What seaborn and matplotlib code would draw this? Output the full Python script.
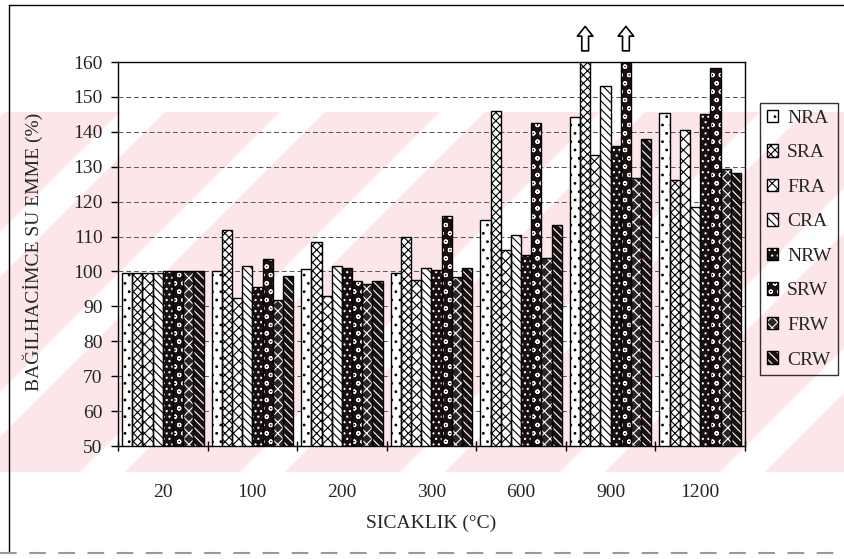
import numpy as np
import pandas as pd
import matplotlib
matplotlib.use("Agg")
import matplotlib.pyplot as plt
import seaborn as sns
from matplotlib.patches import Rectangle, Patch, Polygon
from matplotlib.lines import Line2D
from matplotlib.legend_handler import HandlerTuple

temps = ["20", "100", "200", "300", "600", "900", "1200"]
series = ["NRA", "SRA", "FRA", "CRA", "NRW", "SRW", "FRW", "CRW"]

# values (900 SRA / SRW run off the top, marked with arrows)
NRA = [99.6, 100.0, 100.7, 99.6, 114.8, 144.4, 145.4]
SRA = [99.6, 112.0, 108.4, 110.0, 146.1, 165.0, 126.2]
FRA = [99.6, 92.4, 93.0, 97.5, 106.2, 133.4, 140.5]
CRA = [99.6, 101.6, 101.6, 100.9, 110.5, 153.2, 118.6]
NRW = [100.2, 95.6, 100.9, 100.4, 104.7, 136.0, 145.2]
SRW = [100.2, 103.6, 97.3, 115.9, 142.5, 165.0, 158.3]
FRW = [100.2, 91.8, 96.4, 98.5, 103.8, 126.7, 129.3]
CRW = [100.2, 98.8, 97.3, 100.9, 113.2, 138.0, 128.3]

faces = ["white", "white", "white", "white", "#1a1011", "#1a1011", "#2b2526", "#1a1011"]
hatches = ["..", "xxxx", "xxx", "\\\\\\\\", "...", "oo", "xxx", "\\\\\\\\"]
hatch_cols = ["black"] * 4 + ["white"] * 4

df = pd.DataFrame({
    "temp": temps * 8,
    "series": np.repeat(series, len(temps)),
    "value": NRA + SRA + FRA + CRA + NRW + SRW + FRW + CRW,
})

sns.set_theme(style="white")
plt.rcParams["font.family"] = ["Liberation Serif", "DejaVu Serif"]
plt.rcParams["hatch.linewidth"] = 0.8

W, H = 844, 559
fig = plt.figure(figsize=(W / 100, H / 100), dpi=100)

# faint pink striped watermark of the scanned page
y0, y1 = 112, 472
fig.add_artist(Rectangle((0, 1 - y1 / H), 1, (y1 - y0) / H, transform=fig.transFigure,
                         color="#fce6e9", lw=0, zorder=-10))
for b in range(-400, 900, 160):
    pts = [(b, y1), (b + 45, y1), (b + 45 + (y1 - y0), y0), (b + (y1 - y0), y0)]
    fig.add_artist(Polygon([(x / W, 1 - y / H) for x, y in pts], closed=True,
                           transform=fig.transFigure, color="white", lw=0,
                           zorder=-9, clip_on=False))

ax = fig.add_axes([0.1398, 0.2021, 0.7429, 0.6869])
ax.set_facecolor("none")

sns.barplot(data=df, x="temp", y="value", hue="series", order=temps,
            hue_order=series, palette=dict(zip(series, faces)), width=0.91,
            gap=0, saturation=1, errorbar=None, legend=False, ax=ax)

for cont, h, hc in zip(ax.containers, hatches, hatch_cols):
    for p in cont:
        p.set_hatch(h)
        p.set_edgecolor(hc)
        p.set_linewidth(0)
        ax.add_patch(Rectangle(p.get_xy(), p.get_width(), p.get_height(),
                               fill=False, ec="black", lw=1.0,
                               zorder=p.get_zorder() + 0.1))

ax.set_ylim(50, 160)
ax.set_yticks(range(50, 161, 10))
ax.set_xlim(-0.5, len(temps) - 0.5)
ax.set_xticks(np.arange(-0.5, len(temps), 1), minor=True)
ax.set_axisbelow(True)
ax.yaxis.grid(True, color="#555555", ls=(0, (5, 3)), lw=0.7)

ax.tick_params(axis="x", which="major", length=0, pad=27, labelsize=14,
               bottom=True)
ax.tick_params(axis="x", which="minor", length=7, direction="inout", width=1,
               color="black", bottom=True)
ax.tick_params(axis="y", length=5, direction="out", width=1, pad=6,
               labelsize=14, left=True, color="black")
for s in ax.spines.values():
    s.set_color("black")
    s.set_linewidth(1)

ax.set_xlabel("SICAKLIK (°C)", fontsize=14)
ax.set_ylabel("BAĞILHACİMCE SU EMME (%)", fontsize=14)
ax.xaxis.set_label_coords(0.50, -0.18)
ax.yaxis.set_label_coords(-0.12, 0.505)

# arrows for the two bars that go off scale at 900
for ci in (1, 5):
    p = ax.containers[ci][5]
    xc = p.get_x() + p.get_width() / 2
    ax.annotate("", xy=(xc, 1.10), xytext=(xc, 1.022),
                xycoords=("data", "axes fraction"),
                arrowprops=dict(arrowstyle="simple,head_length=0.5,head_width=0.8,tail_width=0.35",
                                fc="white", ec="black", lw=1.2, mutation_scale=14),
                annotation_clip=False)

handles = [(Patch(facecolor=f, edgecolor=hc, hatch=h, lw=0),
            Patch(facecolor="none", edgecolor="black", lw=1))
           for f, h, hc in zip(faces, hatches, hatch_cols)]
leg = fig.legend(handles, series, loc="upper left",
                 bbox_to_anchor=(760 / W, 1 - 103 / H),
                 bbox_transform=fig.transFigure,
                 handler_map={tuple: HandlerTuple(ndivide=1)},
                 fontsize=14, frameon=True, fancybox=False, edgecolor="black",
                 facecolor="none", framealpha=None, handlelength=0.6,
                 handleheight=0.6, handletextpad=0.45, labelspacing=0.9,
                 borderpad=0.35, borderaxespad=0)
leg.get_frame().set_linewidth(1)

# page frame around the chart
fig.add_artist(Line2D([9 / W, 9 / W], [1 - 5 / H, 1 - 553 / H],
                      transform=fig.transFigure, color="black", lw=1))
fig.add_artist(Line2D([9 / W, 1], [1 - 5 / H, 1 - 5 / H],
                      transform=fig.transFigure, color="black", lw=1))
fig.add_artist(Line2D([0, 1], [1 - 553 / H, 1 - 553 / H],
                      transform=fig.transFigure, color="#999999", lw=1.5,
                      ls=(0, (8, 6))))

fig.savefig("out.png", dpi=100)
